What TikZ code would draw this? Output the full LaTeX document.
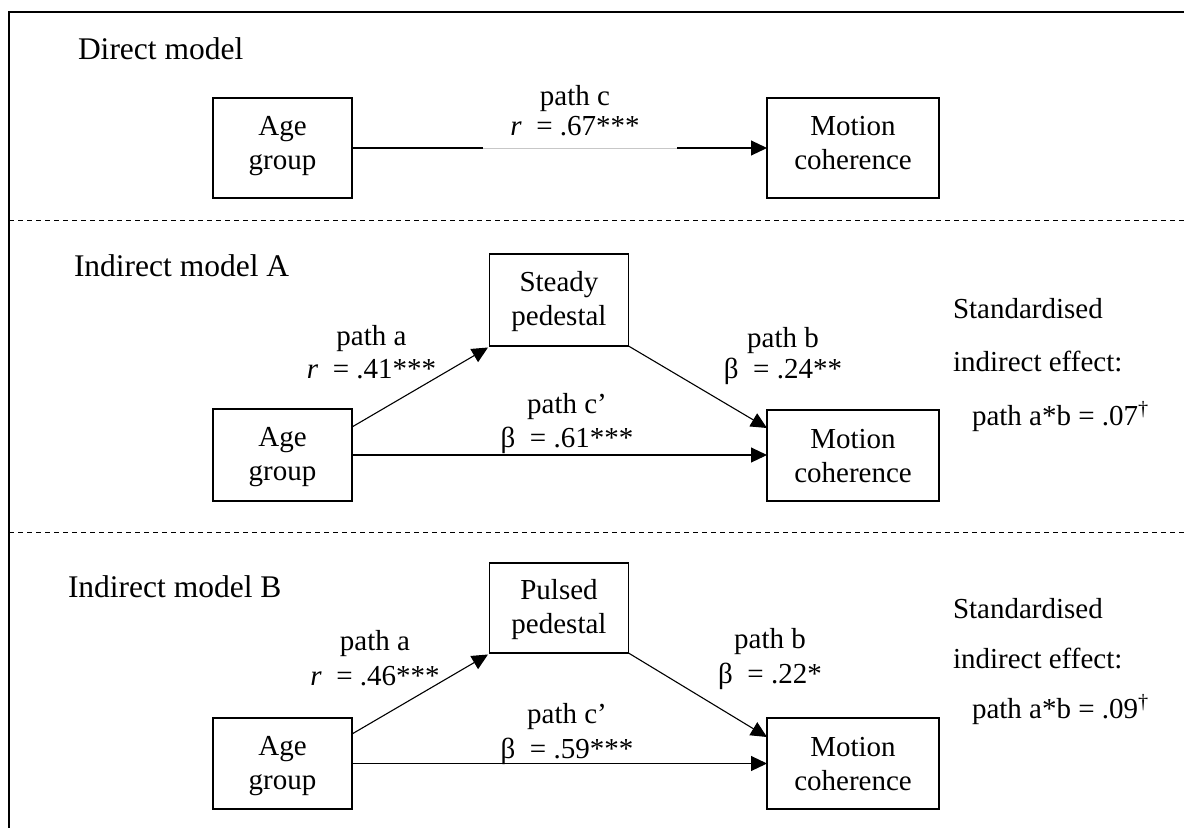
\documentclass[tikz,border=0pt]{standalone}
\usepackage{fontspec}
\setmainfont{Liberation Serif}
\usetikzlibrary{arrows.meta,calc}
\newcommand{\twoline}[2]{\begin{tabular}[t]{@{}c@{}}#1\\#2\end{tabular}}
% box text: first line, second line, strut height, strut depth
\newcommand{\bxt}[4]{\rule{0pt}{#3pt}#1\\#2\rule[-#4pt]{0pt}{#4pt}}
\begin{document}
\begin{tikzpicture}[x=1pt,y=-1pt,
  every node/.style={inner sep=0pt, outer sep=0pt},
  txt/.style={font=\fontsize{29}{34}\selectfont},
  box/.style={txt, draw, line width=1.2pt, align=center, minimum width=139pt, minimum height=92pt},
  wbox/.style={box, minimum width=172pt},
  lab/.style={anchor=base},
  title/.style={font=\fontsize{31.5}{36}\selectfont, anchor=base west},
  conn/.style={line width=1.1pt, -{Triangle[length=16pt,width=15pt]}},
  sep/.style={line width=1pt, dash pattern=on 5pt off 4pt},
  frame/.style={line width=1.8pt}
]
\useasboundingbox (0,0) rectangle (1184,828);

% frame
\coordinate (ftr) at (1184,12);
\coordinate (ftl) at (9,12);
\coordinate (fbl) at (9,828);
\draw[frame] (ftr) -- (ftl) -- (fbl);

% separators
\coordinate (s1l) at (9,220.5);
\coordinate (s1r) at (1184,220.5);
\coordinate (s2l) at (9,532);
\coordinate (s2r) at (1184,532);
\draw[sep] (s1l) -- (s1r);
\draw[sep] (s2l) -- (s2r);

% ---------------- Direct model
\node[title] (tD) at (78,59) {Direct model};
\node[box, minimum height=100pt] (ageD) at (282.5,148) {\bxt{Age}{group}{22}{14}};
\node[wbox, minimum height=100pt] (motD) at (853,148) {\bxt{Motion}{coherence}{22}{14}};
\draw[conn] (ageD.east) -- (motD.west);
\coordinate (g1) at (483,148);
\coordinate (g2) at (677,148);
\draw[white, line width=2.5pt] (g1) -- (g2);
\draw[black!22, line width=0.7pt] (g1) -- (g2);
\node[lab, font=\fontsize{29}{30}\selectfont] (lcD) at (575,105)
  {\twoline{path c}{\textit{r}\ \ = .67***}};

% ---------------- Indirect model A
\node[title] (tA) at (74,276) {Indirect model A};
\node[box] (steady) at (559,300) {\bxt{Steady}{pedestal}{24}{4}};
\node[box] (ageA) at (282.5,455) {\bxt{Age}{group}{24}{4}};
\node[wbox, minimum height=91pt] (motA) at (853,455.5) {\bxt{Motion}{coherence}{24}{4}};
\draw[conn] ($(ageA.north east)+(0,18)$) -- ($(steady.south west)+(-1.5,1.5)$);
\draw[conn] (steady.south east) -- ($(motA.north west)+(0,18)$);
\draw[conn] (ageA.east) -- (ageA.east -| motA.west);
\node[lab, font=\fontsize{29}{33}\selectfont] (laA) at (371.5,345)
  {\twoline{path a}{\textit{r}\ \ = .41***}};
\node[lab, font=\fontsize{29}{31}\selectfont] (lbA) at (783,347)
  {\twoline{path b}{β\ \ = .24**}};
\node[lab, font=\fontsize{29}{34}\selectfont] (lcA) at (567,413)
  {\twoline{path c’}{β\ \ = .61***}};
\node[anchor=base west, font=\fontsize{29}{53.5}\selectfont] (stA) at (953,318)
  {\begin{tabular}[t]{@{}l@{}}Standardised\\indirect effect:\\\hspace*{19pt}path a*b = .07\textsuperscript{†}\end{tabular}};

% ---------------- Indirect model B
\node[title] (tB) at (68,597) {Indirect model B};
\node[box, minimum height=90pt] (pulsed) at (559,608) {\bxt{Pulsed}{pedestal}{24}{4}};
\node[box, minimum height=91pt] (ageB) at (282.5,763.5) {\bxt{Age}{group}{24}{4}};
\node[wbox, minimum height=91pt] (motB) at (853,763.5) {\bxt{Motion}{coherence}{24}{4}};
\draw[conn] ($(ageB.north east)+(0,16)$) -- ($(pulsed.south west)+(-1.5,1.5)$);
\draw[conn] (pulsed.south east) -- ($(motB.north west)+(0,19)$);
\draw[conn] (ageB.east) -- (ageB.east -| motB.west);
\node[lab, font=\fontsize{29}{35}\selectfont] (laB) at (375,650)
  {\twoline{path a}{\textit{r}\ \ = .46***}};
\node[lab, font=\fontsize{29}{35}\selectfont] (lbB) at (770,648)
  {\twoline{path b}{β\ \ = .22*}};
\node[lab, font=\fontsize{29}{35}\selectfont] (lcB) at (567,723)
  {\twoline{path c’}{β\ \ = .59***}};
\node[anchor=base west, font=\fontsize{29}{50}\selectfont] (stB) at (953,618)
  {\begin{tabular}[t]{@{}l@{}}Standardised\\indirect effect:\\\hspace*{19pt}path a*b = .09\textsuperscript{†}\end{tabular}};
\end{tikzpicture}
\end{document}
